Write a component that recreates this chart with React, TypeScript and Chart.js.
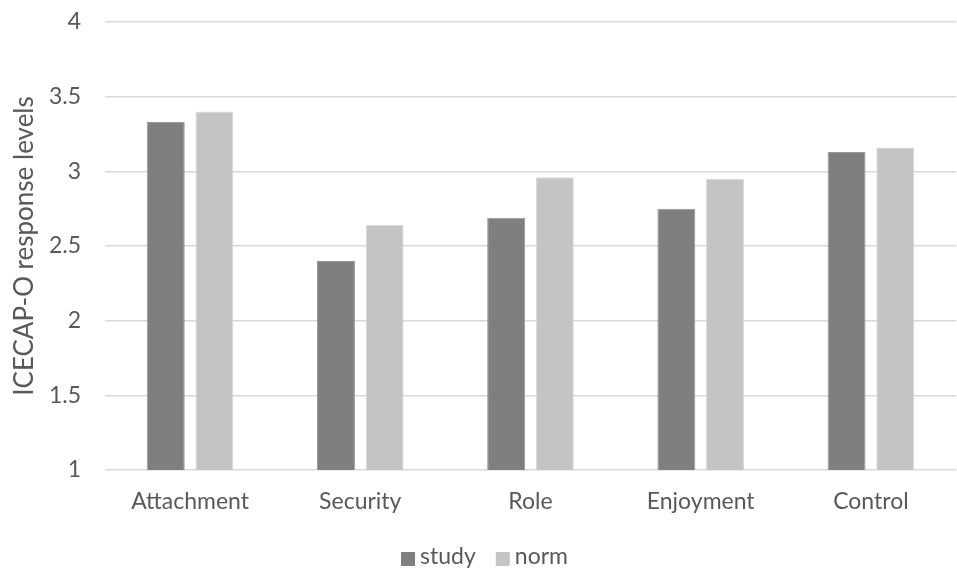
import React, { useEffect, useRef } from 'react';
import { Chart, registerables } from 'chart.js';

Chart.register(...registerables);

const categories = ['Attachment', 'Security', 'Role', 'Enjoyment', 'Control'];
const seriesNames = ['study', 'norm'];
const studyValues = [3.33, 2.4, 2.69, 2.75, 3.13];
const normValues = [3.4, 2.64, 2.96, 2.95, 3.16];
const yMin = 1;
const yMax = 4;
const yStep = 0.5;
const yTitle = 'ICECAP-O response levels';

const FONT = 'Lato, "Open Sans", sans-serif';
const TEXT = '#595959';

const legendPlugin = {
  id: 'customLegend',
  afterDraw(chart: any) {
    const ctx = chart.ctx;
    ctx.save();
    ctx.font = `23px ${FONT}`;
    const box = 14;
    const gapText = 5;
    const gapItem = 20;
    const items = chart.data.datasets.map((ds: any) => ({
      label: ds.label,
      color: ds.backgroundColor,
      w: ctx.measureText(ds.label).width,
    }));
    const total =
      items.reduce((s: number, it: any) => s + box + gapText + it.w, 0) + gapItem * (items.length - 1);
    let x = chart.width / 2 + 6 - total / 2;
    const boxTop = 552;
    const baseline = 564;
    items.forEach((it: any) => {
      ctx.fillStyle = it.color;
      ctx.fillRect(x, boxTop, box, box);
      ctx.fillStyle = TEXT;
      ctx.textBaseline = 'alphabetic';
      ctx.textAlign = 'left';
      ctx.fillText(it.label, x + box + gapText, baseline);
      x += box + gapText + it.w + gapItem;
    });
    ctx.restore();
  },
};

export default function App() {
  const ref = useRef<HTMLCanvasElement | null>(null);
  useEffect(() => {
    if (!ref.current) return;
    const chart = new Chart(ref.current, {
      type: 'bar',
      data: {
        labels: categories,
        datasets: [
          {
            label: seriesNames[0],
            data: studyValues,
            backgroundColor: '#7f7f7f',
            borderColor: '#999999',
            borderWidth: 1,
          },
          {
            label: seriesNames[1],
            data: normValues,
            backgroundColor: '#c4c4c4',
            borderColor: '#dadada',
            borderWidth: 1,
          },
        ],
      },
      options: {
        animation: false,
        responsive: false,
        maintainAspectRatio: false,
        layout: { padding: { top: 22, left: 0, right: 1, bottom: 0 } },
        datasets: {
          bar: { categoryPercentage: 0.572, barPercentage: 0.78 },
        },
        plugins: {
          legend: { display: false },
          tooltip: { enabled: false },
        },
        scales: {
          x: {
            grid: { display: false, drawTicks: false },
            border: { display: false },
            ticks: {
              color: TEXT,
              font: { family: FONT, size: 23 },
              padding: 18,
              maxRotation: 0,
            },
            afterFit: (scale: any) => {
              scale.height = 101;
              scale.paddingLeft = 0;
              scale.paddingRight = 0;
            },
          },
          y: {
            min: yMin,
            max: yMax,
            grid: { color: '#d9d9d9', lineWidth: 1.4, drawTicks: false },
            border: { display: false },
            ticks: {
              stepSize: yStep,
              color: TEXT,
              font: { family: FONT, size: 23 },
              padding: 24,
              callback: (v: any) => String(Number(v)),
            },
            title: {
              display: true,
              text: yTitle,
              color: TEXT,
              font: { family: FONT, size: 26 },
              padding: { top: 9, bottom: 0 },
            },
            afterFit: (scale: any) => {
              scale.width = 105;
              scale.paddingTop = 0;
              scale.paddingBottom = 0;
            },
          },
        },
      },
      plugins: [legendPlugin],
    });
    return () => chart.destroy();
  }, []);
  return (
    <div style={{ position: 'absolute', left: 0, top: 0, width: 957, height: 571, background: '#fff' }}>
      <canvas ref={ref} width={957} height={571} style={{ width: 957, height: 571 }} />
    </div>
  );
}
